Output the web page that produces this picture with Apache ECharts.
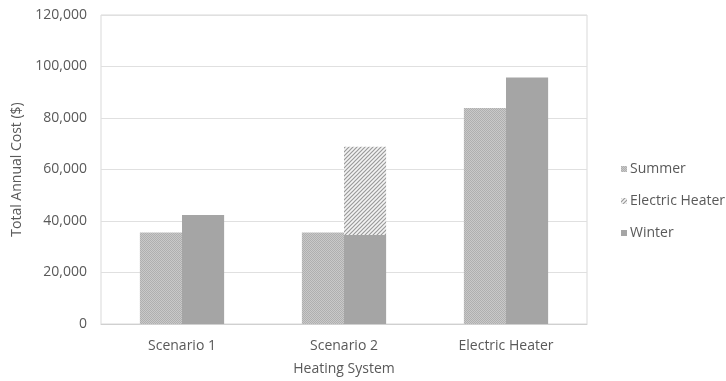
<!DOCTYPE html>
<html>
<head>
<meta charset="utf-8">
<script src="https://cdn.jsdelivr.net/npm/echarts@6/dist/echarts.min.js"></script>
<style>
  html, body { margin: 0; padding: 0; background: #fff; }
  #chart { width: 726px; height: 381px; }
</style>
</head>
<body>
<div id="chart"></div>
<script>
// Annual cost of each heating system, by season
const categories = ['Scenario 1', 'Scenario 2', 'Electric Heater'];
const summerCost = [35500, 35500, 83900];
const winterCost = [42300, 34600, 95700];
const electricHeaterCost = ['-', 34200, '-'];
const yTicks = [0, 20000, 40000, 60000, 80000, 100000, 120000];

// Fine checker fill for the summer bars
function checkerPattern() {
  const c = document.createElement('canvas');
  c.width = 2; c.height = 2;
  const g = c.getContext('2d');
  g.fillStyle = '#c9c9c9'; g.fillRect(0, 0, 2, 2);
  g.fillStyle = '#afafaf'; g.fillRect(0, 0, 1, 1); g.fillRect(1, 1, 1, 1);
  return c;
}

// Diagonal hatch for the electric heater segment
function hatchPattern() {
  const s = 4;
  const c = document.createElement('canvas');
  c.width = s; c.height = s;
  const g = c.getContext('2d');
  g.fillStyle = '#f4f4f4'; g.fillRect(0, 0, s, s);
  g.strokeStyle = '#9a9a9a'; g.lineWidth = 1.2;
  g.beginPath();
  g.moveTo(-1, s + 1); g.lineTo(s + 1, -1);
  g.moveTo(-1, 1); g.lineTo(1, -1);
  g.moveTo(s - 1, s + 1); g.lineTo(s + 1, s - 1);
  g.stroke();
  return c;
}

const textColor = '#595959';
const font = 'Open Sans';
const fontSize = 14;
const chart = echarts.init(document.getElementById('chart'));

chart.setOption({
  animation: false,
  textStyle: { fontFamily: font },
  grid: {
    left: 101, right: 139, top: 15, bottom: 56,
    show: true, borderColor: '#d9d9d9', borderWidth: 1
  },
  legend: {
    orient: 'vertical',
    left: 616, top: 156,
    itemWidth: 6, itemHeight: 6, itemGap: 16,
    icon: 'rect',
    data: ['Summer', 'Electric Heater', 'Winter'],
    textStyle: {
      color: textColor, fontSize: fontSize, fontFamily: font,
      lineHeight: 16, padding: [0, 0, 0, -2]
    }
  },
  xAxis: {
    type: 'category',
    data: categories,
    name: 'Heating System',
    nameLocation: 'middle',
    nameGap: 38,
    nameTextStyle: { color: textColor, fontSize: fontSize, fontFamily: font },
    axisLine: { lineStyle: { color: '#d0d0d0' } },
    axisTick: { show: false },
    axisLabel: { color: textColor, fontSize: fontSize, margin: 15, fontFamily: font }
  },
  yAxis: {
    type: 'value',
    min: yTicks[0],
    max: yTicks[yTicks.length - 1],
    interval: yTicks[1] - yTicks[0],
    name: 'Total Annual Cost ($)',
    nameLocation: 'middle',
    nameRotate: 90,
    nameGap: 71,
    nameTextStyle: { color: textColor, fontSize: fontSize, fontFamily: font },
    axisLine: { show: false },
    axisTick: { show: false },
    axisLabel: {
      color: textColor, fontSize: fontSize, margin: 14, fontFamily: font,
      formatter: v => v.toLocaleString('en-US')
    },
    splitLine: { lineStyle: { color: '#e0e0e0' } }
  },
  series: [
    {
      name: 'Summer',
      type: 'bar',
      data: summerCost,
      barGap: '0%',
      barCategoryGap: '48%',
      itemStyle: { color: { image: checkerPattern(), repeat: 'repeat' } }
    },
    {
      name: 'Winter',
      type: 'bar',
      stack: 'winter',
      data: winterCost,
      itemStyle: { color: '#a5a5a5' }
    },
    {
      name: 'Electric Heater',
      type: 'bar',
      stack: 'winter',
      data: electricHeaterCost,
      itemStyle: { color: { image: hatchPattern(), repeat: 'repeat' } }
    }
  ]
});
</script>
</body>
</html>
